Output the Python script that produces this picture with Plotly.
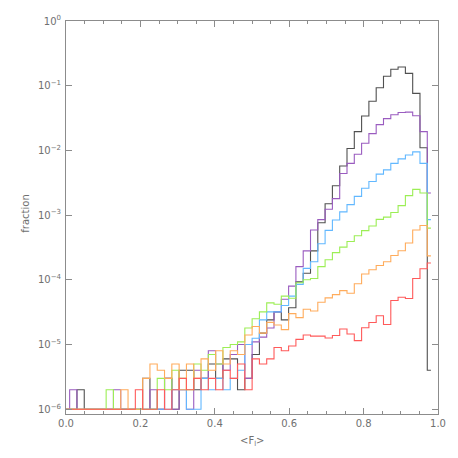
import numpy as np
import plotly.graph_objects as go

# ---- data: histogram fractions per bin (51 bins, centres from 0 to 0.981) ----
bin_width = 0.01962
n_bins = 51
bin_centers = np.arange(n_bins) * bin_width

black = [1e-6, 1e-6, 2e-6, 1e-6, 1e-6, 1e-6, 1e-6, 1e-6, 1e-6, 1e-6,
         1e-6, 3e-6, 1e-6, 1e-6, 3e-6, 1e-6, 4e-6, 4e-6, 2e-6, 3e-6,
         5e-6, 3e-6, 6e-6, 6e-6, 2e-6, 3e-6, 7e-6, 1.5e-5, 2.4e-5, 3.2e-5,
         2.4e-5, 3.7e-5, 9.3e-5, 1.26e-4, 2.8e-4, 7.6e-4, 1.5e-3, 2.85e-3, 5.75e-3, 1.07e-2,
         1.95e-2, 3.4e-2, 5.75e-2, 9.3e-2, 0.14, 0.18, 0.195, 0.155, 0.076, 0.011,
         4e-6]

purple = [1e-6, 2e-6, 1e-6, 1e-6, 1e-6, 1e-6, 1e-6, 2e-6, 1e-6, 1e-6,
          1e-6, 1e-6, 2e-6, 1e-6, 3e-6, 1e-6, 2e-6, 1e-6, 4e-6, 3e-6,
          8e-6, 5e-6, 4e-6, 7e-6, 1e-5, 3e-6, 1.1e-5, 1.3e-5, 1.8e-5, 3.2e-5,
          5e-5, 8e-5, 1.6e-4, 2.8e-4, 5.9e-4, 8.5e-4, 1.23e-3, 1.8e-3, 4.4e-3, 6.3e-3,
          8.7e-3, 1.29e-2, 1.82e-2, 2.5e-2, 3.1e-2, 3.55e-2, 3.85e-2, 3.9e-2, 3.43e-2, 1.95e-2,
          2.2e-3]

blue = [1e-6, 1e-6, 1e-6, 1e-6, 1e-6, 1e-6, 1e-6, 1e-6, 1e-6, 1e-6,
        1e-6, 1e-6, 1e-6, 1e-6, 1e-6, 2e-6, 2e-6, 1e-6, 1e-6, 3e-6,
        2e-6, 3e-6, 2e-6, 3e-6, 4e-6, 1e-5, 1.25e-5, 2.4e-5, 3.2e-5, 3.2e-5,
        4e-5, 5.6e-5, 8.5e-5, 1.5e-4, 1.9e-4, 3.6e-4, 5.8e-4, 8.4e-4, 1.12e-3, 1.45e-3,
        1.95e-3, 2.6e-3, 3.3e-3, 4.3e-3, 5.0e-3, 6.3e-3, 7.4e-3, 8.5e-3, 9.5e-3, 6.3e-3,
        8.5e-4]

green = [1e-6, 1e-6, 1e-6, 1e-6, 1e-6, 1e-6, 2e-6, 1e-6, 1e-6, 1e-6,
         1e-6, 1e-6, 1e-6, 3e-6, 2e-6, 4e-6, 3e-6, 2e-6, 5e-6, 4e-6,
         7e-6, 5e-6, 9e-6, 1.0e-5, 1.1e-5, 1.8e-5, 2.5e-5, 3.2e-5, 4.4e-5, 4.2e-5,
         5.6e-5, 5.2e-5, 9e-5, 1.0e-4, 1.05e-4, 1.6e-4, 2.04e-4, 2.63e-4, 3.2e-4, 3.9e-4,
         4.8e-4, 5.75e-4, 6.8e-4, 8.6e-4, 9.3e-4, 1.1e-3, 1.4e-3, 2.0e-3, 2.5e-3, 2.2e-3,
         6.3e-4]

orange = [1e-6, 1e-6, 1e-6, 1e-6, 1e-6, 1e-6, 1e-6, 1e-6, 2e-6, 1e-6,
          1e-6, 3e-6, 5e-6, 4e-6, 3e-6, 5e-6, 2e-6, 5e-6, 3e-6, 6e-6,
          4e-6, 8e-6, 5e-6, 8e-6, 7e-6, 1.4e-5, 1.9e-5, 1.5e-5, 2.2e-5, 2.0e-5,
          1.7e-5, 3.0e-5, 2.6e-5, 3.5e-5, 3.3e-5, 4.5e-5, 5.25e-5, 5.9e-5, 6.8e-5, 6.2e-5,
          8.7e-5, 1.23e-4, 1.43e-4, 1.66e-4, 1.9e-4, 2.37e-4, 2.82e-4, 3.7e-4, 5.9e-4, 6.9e-4,
          2.34e-4]

red = [1e-6, 1e-6, 1e-6, 1e-6, 1e-6, 1e-6, 1e-6, 1e-6, 1e-6, 1e-6,
       2e-6, 1e-6, 1e-6, 2e-6, 1e-6, 2e-6, 3e-6, 2e-6, 3e-6, 2e-6,
       3e-6, 2e-6, 4e-6, 3e-6, 5e-6, 2e-6, 6e-6, 5e-6, 6e-6, 9e-6,
       8e-6, 9.5e-6, 1.2e-5, 1.4e-5, 1.35e-5, 1.35e-5, 1.26e-5, 1.38e-5, 1.74e-5, 1.45e-5,
       1.15e-5, 1.82e-5, 2.19e-5, 2.79e-5, 2.04e-5, 4.79e-5, 5.37e-5, 5.13e-5, 1.05e-4, 1.48e-4,
       1.82e-4]

series = [
    ("black", black, "#505050"),
    ("purple", purple, "#9a5cc0"),
    ("blue", blue, "#62b8ff"),
    ("green", green, "#9cee55"),
    ("orange", orange, "#ffac5c"),
    ("red", red, "#ff5a5a"),
]

y_tickvals = [1e-6, 1e-5, 1e-4, 1e-3, 1e-2, 1e-1, 1e0]
y_ticktext = ["10<sup>−6</sup>", "10<sup>−5</sup>", "10<sup>−4</sup>", "10<sup>−3</sup>",
              "10<sup>−2</sup>", "10<sup>−1</sup>", "10<sup>0</sup>"]
x_tickvals = [0.0, 0.2, 0.4, 0.6, 0.8, 1.0]
x_ticktext = ["0.0", "0.2", "0.4", "0.6", "0.8", "1.0"]
x_title = "&lt;F<sub>l</sub>&gt;"
y_title = "fraction"

fig = go.Figure()
for name, vals, col in series:
    fig.add_trace(go.Scatter(
        x=bin_centers, y=vals, mode="lines", name=name,
        line=dict(color=col, width=1.1, shape="hvh"),
        showlegend=False, hoverinfo="skip",
    ))

axcol = "#8c8c8c"
fontcol = "#707070"
# page body has an 8px default margin, so the figure is 442x442 inside the 458 window
fig.update_layout(
    width=442, height=442,
    margin=dict(l=58, r=12, t=13, b=36),
    paper_bgcolor="white", plot_bgcolor="white",
    font=dict(family="DejaVu Sans, sans-serif", size=10, color=fontcol),
)
fig.update_xaxes(
    range=[0, 1], tickvals=x_tickvals, ticktext=x_ticktext,
    ticks="inside", ticklen=6, tickcolor=axcol, tickwidth=1,
    minor=dict(ticks="inside", ticklen=3, dtick=0.05, tick0=0, tickcolor=axcol),
    showline=True, linecolor=axcol, linewidth=1, mirror="ticks",
    showgrid=False, zeroline=False, automargin=False,
)
fig.update_yaxes(
    type="log", range=[-6.074, 0], tickvals=y_tickvals, ticktext=y_ticktext,
    ticks="inside", ticklen=6, tickcolor=axcol, tickwidth=1,
    showline=True, linecolor=axcol, linewidth=1, mirror="ticks",
    showgrid=False, zeroline=False, automargin=False,
    ticklabelstandoff=2,
)
fig.add_annotation(text=x_title, xref="paper", yref="paper", x=0.5, y=-0.07,
                   xanchor="center", yanchor="middle", showarrow=False,
                   font=dict(size=10, color=fontcol))
fig.add_annotation(text=y_title, xref="paper", yref="paper", x=-0.11, y=0.51,
                   xanchor="center", yanchor="middle", showarrow=False, textangle=-90,
                   font=dict(size=10, color=fontcol))

fig.write_html("out.html")
